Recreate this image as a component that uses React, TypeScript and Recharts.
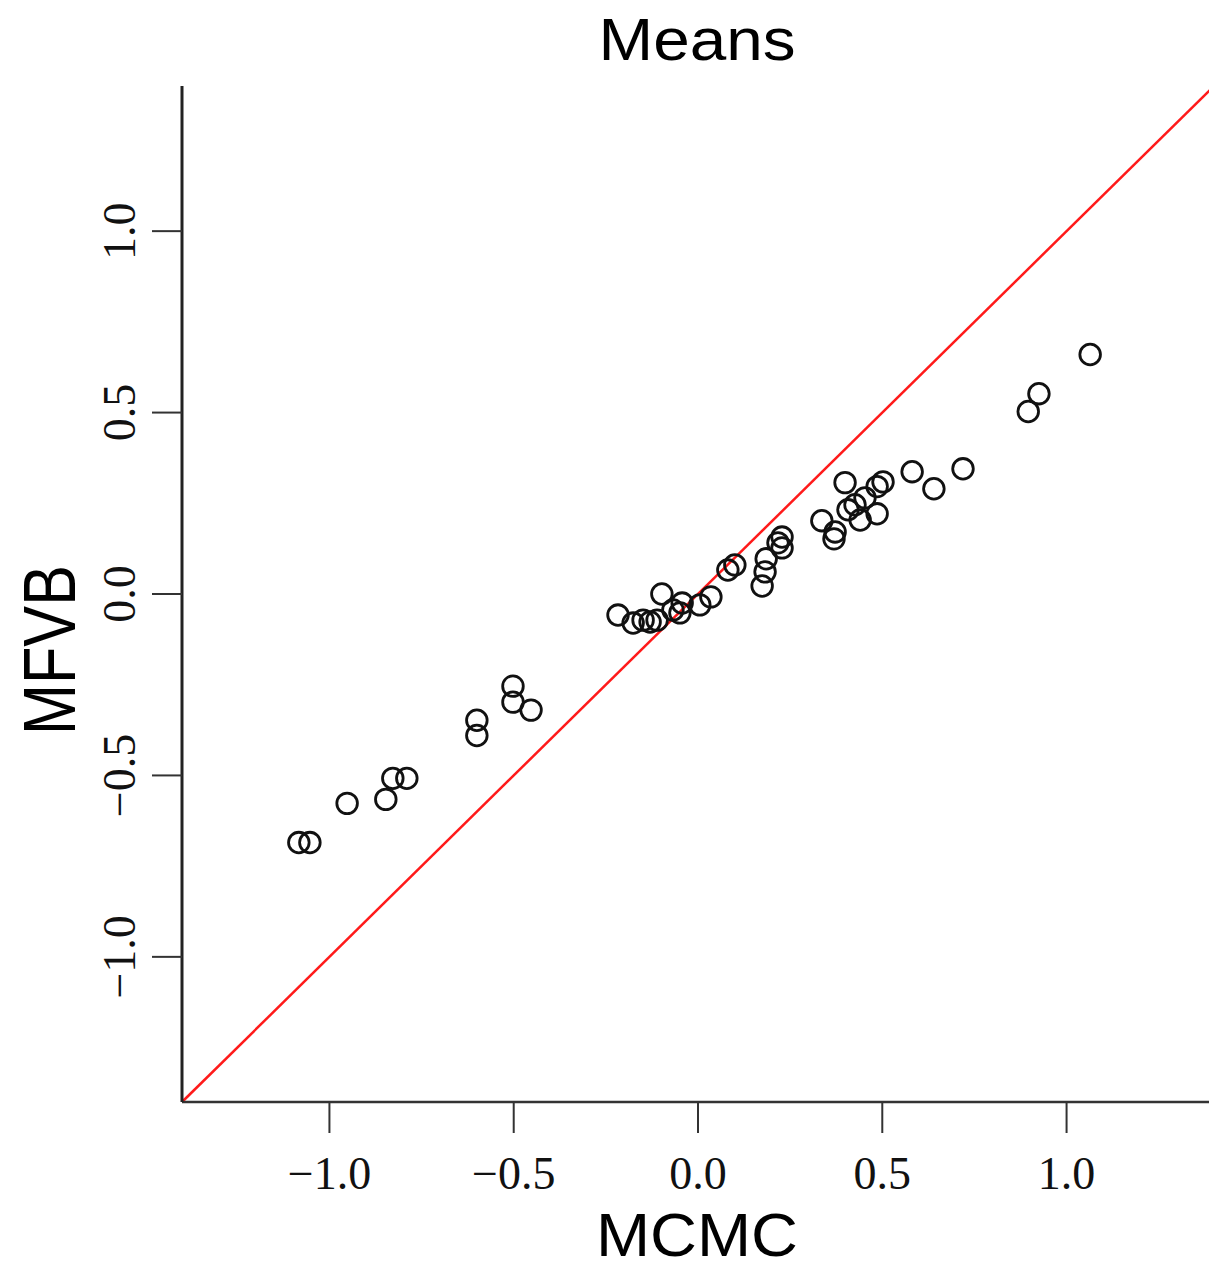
import { ScatterChart, Scatter, XAxis, YAxis, ReferenceLine } from "recharts"

// posterior means, MCMC (x) vs MFVB (y)
const mcmc = [
  -1.083, -1.053, -0.952, -0.847, -0.828, -0.79, -0.6, -0.6, -0.502, -0.502, -0.453,
  -0.217, -0.176, -0.149, -0.13, -0.111, -0.098, -0.068, -0.043, -0.049, 0.005, 0.035,
  0.081, 0.1, 0.174, 0.182, 0.185, 0.228, 0.228, 0.217, 0.336, 0.372, 0.369, 0.399,
  0.407, 0.426, 0.44, 0.453, 0.486, 0.486, 0.502, 0.581, 0.64, 0.719, 0.896, 0.925, 1.064,
]
const mfvb = [
  -0.685, -0.685, -0.577, -0.566, -0.508, -0.508, -0.348, -0.39, -0.254, -0.298, -0.32,
  -0.058, -0.08, -0.072, -0.077, -0.072, 0.0, -0.044, -0.025, -0.052, -0.03, -0.008,
  0.066, 0.08, 0.022, 0.061, 0.097, 0.157, 0.127, 0.141, 0.202, 0.171, 0.152, 0.307,
  0.232, 0.246, 0.204, 0.265, 0.221, 0.296, 0.309, 0.337, 0.29, 0.345, 0.503, 0.552, 0.66,
]
const ticks = [-1, -0.5, 0, 0.5, 1]
const domain = [-1.4, 1.4]
const diagonal = [
  { x: -1.4, y: -1.4 },
  { x: 1.4, y: 1.4 },
]

const points = mcmc.map((x, i) => ({ x, y: mfvb[i] }))

const fmt = (v: number) => (v < 0 ? "\u2212" : "") + Math.abs(v).toFixed(1)

const XTick = (props: any) => {
  const { x, payload } = props
  return (
    <text x={x} y={1189} textAnchor="middle" fontFamily="Liberation Serif" fontSize={46} fill="#111">
      {fmt(payload.value)}
    </text>
  )
}

const YTick = (props: any) => {
  const { y, payload } = props
  return (
    <text
      x={135}
      y={y}
      transform={`rotate(-90, 135, ${y})`}
      textAnchor="middle"
      fontFamily="Liberation Serif"
      fontSize={46}
      fill="#111"
    >
      {fmt(payload.value)}
    </text>
  )
}

const Ring = (props: any) => (
  <circle cx={props.cx} cy={props.cy} r={10.3} fill="none" stroke="#111" strokeWidth={2.8} />
)

export default function App() {
  return (
    <div style={{ position: "absolute", left: 0, top: 0, width: 1209, height: 1270, overflow: "hidden", background: "#fff" }}>
      <ScatterChart width={1230} height={1270} margin={{ top: 86, right: 16, left: 0, bottom: 0 }}>
        <XAxis
          xAxisId="top"
          orientation="top"
          type="number"
          dataKey="x"
          domain={domain}
          height={0}
          tick={false}
          tickLine={false}
          axisLine={{ stroke: "#333", strokeWidth: 2.5 }}
        />
        <XAxis
          type="number"
          dataKey="x"
          domain={domain}
          ticks={ticks}
          height={168}
          tickSize={31}
          tick={<XTick />}
          tickLine={{ stroke: "#333", strokeWidth: 2 }}
          axisLine={{ stroke: "#333", strokeWidth: 2.5 }}
          allowDataOverflow
        />
        <YAxis
          type="number"
          dataKey="y"
          domain={domain}
          ticks={ticks}
          width={182}
          tickSize={30}
          tick={<YTick />}
          tickLine={{ stroke: "#333", strokeWidth: 2 }}
          axisLine={{ stroke: "#222", strokeWidth: 3 }}
          allowDataOverflow
        />
        <ReferenceLine segment={diagonal} stroke="#ff1a1a" strokeWidth={2.5} ifOverflow="visible" />
        <Scatter data={points} shape={<Ring />} isAnimationActive={false} />
        <text x={697} y={60} textAnchor="middle" fontFamily="Liberation Sans" fontSize={60} textLength={197} lengthAdjust="spacingAndGlyphs" fill="#000">
          Means
        </text>
        <text x={697} y={1256} textAnchor="middle" fontFamily="Liberation Sans" fontSize={62} textLength={202} lengthAdjust="spacingAndGlyphs" fill="#000">
          MCMC
        </text>
        <text
          x={75}
          y={650}
          transform="rotate(-90, 75, 650)"
          textAnchor="middle"
          fontFamily="Liberation Sans"
          fontSize={74}
          textLength={170}
          lengthAdjust="spacingAndGlyphs"
          fill="#000"
        >
          MFVB
        </text>
      </ScatterChart>
    </div>
  )
}
